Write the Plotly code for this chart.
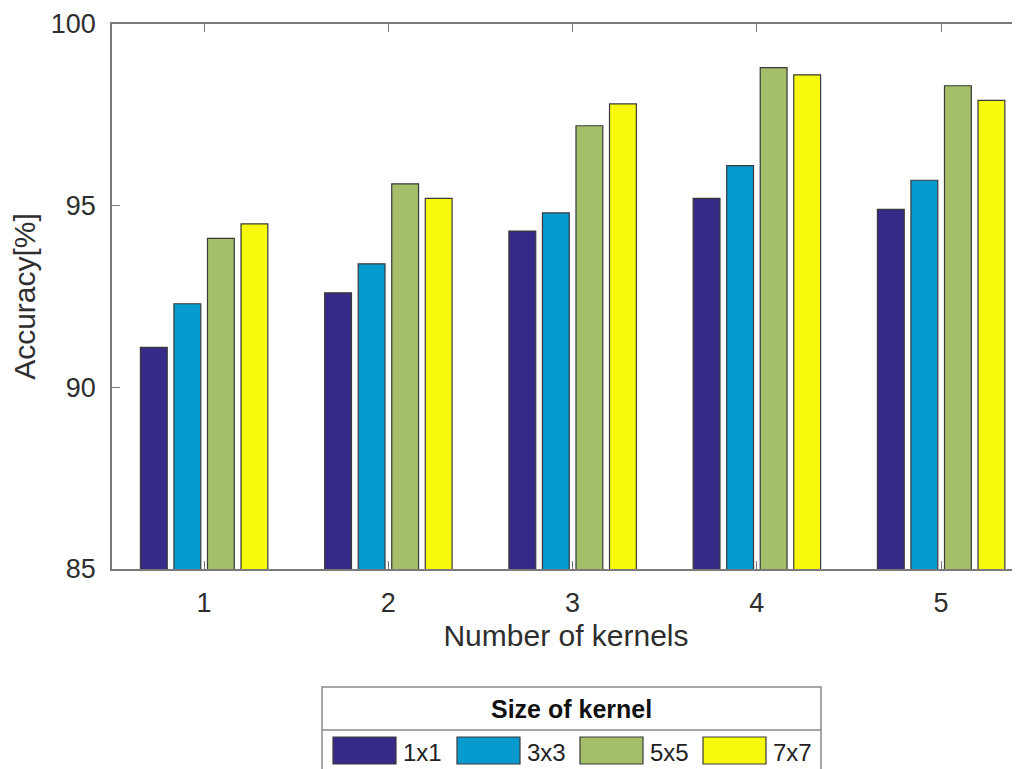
import plotly.graph_objects as go

# ---- data ----
categories = [1, 2, 3, 4, 5]
series_names = ["1x1", "3x3", "5x5", "7x7"]
acc_1x1 = [91.1, 92.6, 94.3, 95.2, 94.9]
acc_3x3 = [92.3, 93.4, 94.8, 96.1, 95.7]
acc_5x5 = [94.1, 95.6, 97.2, 98.8, 98.3]
acc_7x7 = [94.5, 95.2, 97.8, 98.6, 97.9]
y_ticks = [85, 90, 95, 100]
legend_title = "Size of kernel"

series_values = [acc_1x1, acc_3x3, acc_5x5, acc_7x7]
colors = ["#352A87", "#069ACF", "#A5BE6A", "#F8FA0D"]

# page body has an 8px margin; compensate so the picture lines up
OFF = 8
W, H = 1020 - OFF, 769 - OFF
L, T, B = 112, 24, 569          # plot area in window pixels
plot_w = 1020 - L
plot_h = B - T

def px(x):
    return (x - L) / plot_w

def py(y):
    return (B - y) / plot_h

fig = go.Figure()
for name, vals, col in zip(series_names, series_values, colors):
    fig.add_trace(go.Bar(
        x=categories, y=vals, name=name,
        marker=dict(color=col, line=dict(color="#3a3a3a", width=1.2)),
        showlegend=False,
    ))

font_fam = "Liberation Sans, Arial, sans-serif"
axis_col = "#7a7a7a"
txt_col = "#2e2e2e"

fig.update_layout(
    width=W, height=H,
    margin=dict(l=L - OFF, r=0, t=T - OFF, b=(769 - B), pad=0),
    paper_bgcolor="white", plot_bgcolor="white",
    barmode="group", bargap=0.272, bargroupgap=0.2,
    font=dict(family=font_fam, color=txt_col),
)

fig.update_xaxes(
    range=[0.5, 0.5 + plot_w / 184.25],
    tickvals=categories, ticktext=[str(c) for c in categories],
    ticks="inside", ticklen=8, tickwidth=1.2, tickcolor=axis_col,
    showline=True, linecolor=axis_col, linewidth=1.5, mirror="ticks",
    showgrid=False, zeroline=False,
    tickfont=dict(size=27, color=txt_col, family=font_fam),
    ticklabelstandoff=9,
    title=dict(text="Number of kernels", font=dict(size=30, color=txt_col, family=font_fam), standoff=8),
)
fig.update_yaxes(
    range=[85, 100],
    tickvals=y_ticks,
    ticks="inside", ticklen=8, tickwidth=1.2, tickcolor=axis_col,
    showline=True, linecolor=axis_col, linewidth=1.5, mirror=False,
    showgrid=False, zeroline=False,
    tickfont=dict(size=27, color=txt_col, family=font_fam),
    ticklabelstandoff=9,
    title=dict(text="Accuracy[%]", font=dict(size=30, color=txt_col, family=font_fam), standoff=10),
)

# ---- custom legend box (MATLAB style) ----
box_l, box_r, box_t, box_sep, box_b = 322, 821, 687, 730, 790
shapes = [
    dict(type="rect", xref="paper", yref="paper",
         x0=px(box_l), x1=px(box_r), y0=py(box_b), y1=py(box_t),
         line=dict(color="#8a8a8a", width=1.5), fillcolor="white", layer="above"),
    dict(type="line", xref="paper", yref="paper",
         x0=px(box_l), x1=px(box_r), y0=py(box_sep), y1=py(box_sep),
         line=dict(color="#8a8a8a", width=1.5), layer="above"),
]
annotations = [
    dict(text="<b>" + legend_title + "</b>", xref="paper", yref="paper",
         x=px(571), y=py(709), xanchor="center", yanchor="middle", showarrow=False,
         font=dict(size=25, color="#111111", family=font_fam)),
]
sw_x0 = [333, 457, 580, 703]
sw_w = 63
sw_t, sw_b = 737, 764
for name, col, x0 in zip(series_names, colors, sw_x0):
    shapes.append(dict(type="rect", xref="paper", yref="paper",
                       x0=px(x0), x1=px(x0 + sw_w), y0=py(sw_b), y1=py(sw_t),
                       fillcolor=col, line=dict(color="#3a3a3a", width=1.2), layer="above"))
    annotations.append(dict(text=name, xref="paper", yref="paper",
                            x=px(x0 + sw_w + 5), y=py(752), xanchor="left", yanchor="middle",
                            showarrow=False, font=dict(size=24, color="#222222", family=font_fam)))

fig.update_layout(shapes=shapes, annotations=annotations)

fig.write_html("out.html")
